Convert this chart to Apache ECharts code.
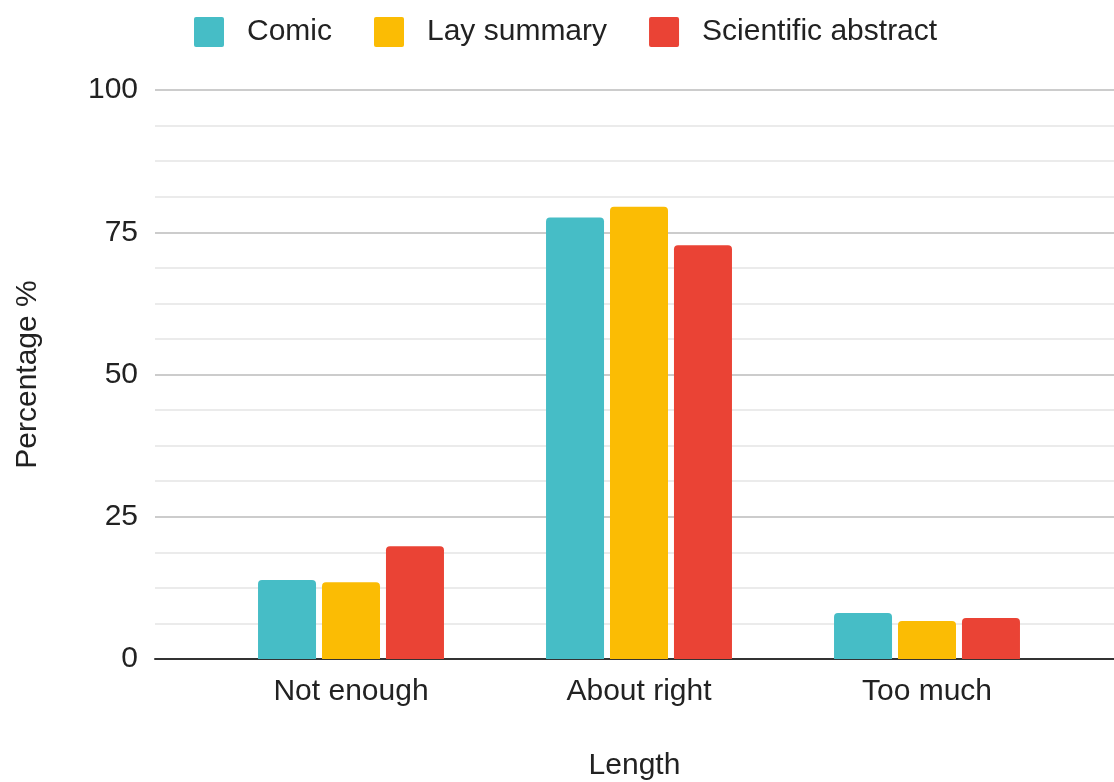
<!DOCTYPE html>
<html>
<head>
<meta charset="utf-8">
<script src="https://cdn.jsdelivr.net/npm/echarts@6/dist/echarts.min.js"></script>
<style>html,body{margin:0;padding:0;background:#fff}#c{width:1114px;height:782px}</style>
</head>
<body>
<div id="c"></div>
<script>
const categories = ['Not enough', 'About right', 'Too much'];
const seriesNames = ['Comic', 'Lay summary', 'Scientific abstract'];
const comic = [13.9, 77.6, 8.1];
const laySummary = [13.5, 79.5, 6.7];
const scientificAbstract = [19.8, 72.7, 7.2];
const colors = ['#46bdc6', '#fbbc04', '#ea4335'];
const yTicks = [0, 25, 50, 75, 100];

const FONT = 'Arial, "Liberation Sans", sans-serif';
const chart = echarts.init(document.getElementById('c'), null, {renderer: 'canvas'});
const values = [comic, laySummary, scientificAbstract];
chart.setOption({
  animation: false,
  color: colors,
  legend: {
    top: 12, left: 189,
    itemWidth: 30, itemHeight: 30, itemGap: 42,
    icon: 'path://M2,0 H28 Q30,0 30,2 V28 Q30,30 28,30 H2 Q0,30 0,28 V2 Q0,0 2,0 Z',
    textStyle: {fontFamily: FONT, fontSize: 30, color: '#222', padding: [0, 0, 0, 18]},
    data: seriesNames
  },
  grid: [
    {left: 155, right: 0, top: 90, bottom: 123, outerBoundsMode: 'none'},
    {left: 207, right: 43, top: 90, bottom: 123, outerBoundsMode: 'none'}
  ],
  xAxis: [
    {gridIndex: 0, type: 'category', data: categories, boundaryGap: true,
     axisLine: {lineStyle: {color: '#333', width: 2}}, axisTick: {show: false}, axisLabel: {show: false},
     name: 'Length', nameLocation: 'middle', nameGap: 92,
     nameTextStyle: {fontFamily: FONT, fontSize: 30, color: '#222'}},
    {gridIndex: 1, type: 'category', data: categories,
     axisLine: {show: false}, axisTick: {show: false},
     axisLabel: {fontFamily: FONT, fontSize: 30, color: '#222', margin: 18}}
  ],
  yAxis: [
    {gridIndex: 0, type: 'value', min: 0, max: 100, interval: 25,
     axisLabel: {fontFamily: FONT, fontSize: 30, color: '#222', margin: 17, formatter: v => yTicks.includes(v) ? String(v) : ''},
     axisLine: {show: false}, axisTick: {show: false},
     splitLine: {lineStyle: {color: '#cccccc', width: 2}},
     minorTick: {show: false, splitNumber: 4},
     minorSplitLine: {show: true, lineStyle: {color: '#ebebeb', width: 2}},
     name: 'Percentage %', nameLocation: 'middle', nameGap: 112, nameRotate: 90,
     nameTextStyle: {fontFamily: FONT, fontSize: 30, color: '#222'}},
    {gridIndex: 1, type: 'value', min: 0, max: 100, show: false, splitLine: {show: false}}
  ],
  series: seriesNames.map((n, i) => ({
    name: n, type: 'bar', xAxisIndex: 1, yAxisIndex: 1,
    data: values[i], barWidth: 58, barGap: '10.3%',
    itemStyle: {color: colors[i], borderRadius: [4, 4, 0, 0]}
  }))
});
</script>
</body>
</html>
